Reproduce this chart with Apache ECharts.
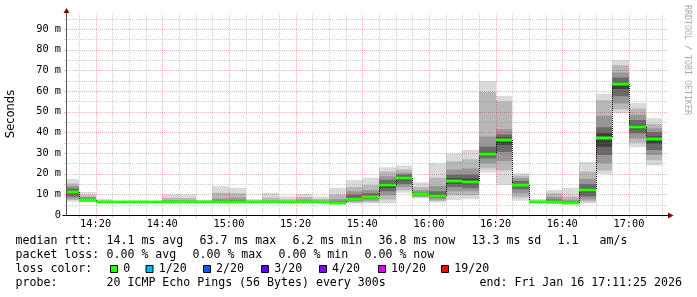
<!DOCTYPE html>
<html><head><meta charset="utf-8">
<script src="https://cdn.jsdelivr.net/npm/echarts@6/dist/echarts.min.js"></script>
<style>html,body{margin:0;padding:0;background:#fff}#c{width:697px;height:297px}</style>
</head><body><div id="c"></div>
<script>
// ---- data ----
// end time of each 5-minute step
const binEnds = ['14:15','14:20','14:25','14:30','14:35','14:40','14:45','14:50','14:55','15:00','15:05','15:10',
  '15:15','15:20','15:25','15:30','15:35','15:40','15:45','15:50','15:55','16:00','16:05','16:10',
  '16:15','16:20','16:25','16:30','16:35','16:40','16:45','16:50','16:55','17:00','17:05','17:10'];
// median rtt (ms)
const median = [11.1,7.3,6.1,6.1,6.4,6.1,6.1,6.1,6.1,6.2,6.2,6.2,6.1,6.1,6.2,6.2,6.0,7.9,8.7,14.4,17.9,10.0,9.2,16.6,
  16.0,29.4,36.4,14.7,6.1,6.3,6.0,12.1,37.3,63.4,42.6,36.6];
// smoke: sorted ping quantiles (ms), lo1 = fastest ping ... hi1 = slowest ping
const lo1 = [6.4,6.1,5.8,5.9,6.1,5.9,5.8,5.8,5.8,5.8,5.8,5.8,5.8,5.8,5.8,5.8,5.6,5.4,5.6,5.6,10.8,8.1,6.0,7.3,7.7,20.6,14.5,6.9,5.8,5.3,5.5,5.6,19.8,49.2,32.8,24.0];
const lo2 = [7.2,6.4,5.9,6.0,6.2,6.0,5.9,5.9,5.9,5.9,5.9,5.9,5.9,5.9,5.9,5.9,5.7,6.0,6.3,7.5,12.0,8.6,6.8,9.5,9.5,22.5,21.5,8.5,5.9,5.6,5.7,6.5,21.5,51.0,35.0,26.5];
const lo3 = [8.0,6.7,6.0,6.0,6.3,6.0,6.0,6.0,6.0,6.0,6.0,6.0,6.0,6.0,6.0,6.0,5.8,6.5,7.0,9.5,13.5,9.0,7.5,11.5,11.5,25.0,26.0,10.5,6.0,5.8,5.8,7.5,25.0,54.0,37.0,29.0];
const lo4 = [9.0,6.9,6.0,6.1,6.3,6.1,6.0,6.0,6.0,6.1,6.1,6.1,6.0,6.0,6.1,6.1,5.9,7.0,7.7,11.5,15.0,9.4,8.2,13.5,13.0,27.5,30.5,12.5,6.0,6.0,5.9,9.0,29.0,57.5,39.5,31.5];
const lo5 = [10.3,7.1,6.1,6.1,6.4,6.1,6.1,6.1,6.1,6.2,6.2,6.2,6.1,6.1,6.2,6.2,6.0,7.6,8.3,13.2,16.8,9.8,8.8,15.3,14.8,28.8,34.0,14.0,6.1,6.2,6.0,11.0,33.0,61.0,41.5,34.5];
const hi5 = [11.8,7.5,6.2,6.2,6.5,6.2,6.3,6.3,6.2,6.5,6.6,6.3,6.2,6.2,6.4,6.3,6.2,8.6,9.2,15.5,18.7,10.3,10.0,17.8,17.5,30.5,37.5,15.3,6.2,6.6,6.2,13.0,39.5,64.5,43.5,38.0];
const hi4 = [12.8,8.0,6.3,6.2,6.5,6.2,6.6,6.6,6.3,7.0,7.2,6.4,6.5,6.4,6.8,6.5,6.8,9.8,10.5,17.0,19.5,11.0,11.5,19.5,19.5,33.0,39.0,16.5,6.3,7.5,6.6,15.0,42.5,66.5,46.0,40.0];
const hi3 = [14.0,8.7,6.5,6.3,6.6,6.3,7.2,7.1,6.5,8.0,8.3,6.6,7.0,6.8,7.5,6.9,7.8,11.5,12.0,18.8,20.5,12.0,14.0,22.0,22.5,38.0,41.5,17.8,6.5,8.8,7.4,17.5,48.0,69.0,48.5,42.0];
const hi2 = [15.3,9.6,6.9,6.4,6.7,6.4,8.3,8.2,6.8,10.8,10.5,7.0,8.3,7.6,8.7,7.8,9.8,13.5,14.5,21.0,22.0,13.5,18.0,26.0,27.0,59.5,55.0,19.0,6.9,10.5,9.0,21.0,55.5,72.5,51.5,44.0];
const hi1 = [17.4,11.1,7.9,6.6,6.9,6.6,10.0,9.9,7.4,14.0,13.2,7.7,10.7,8.9,10.3,8.9,13.2,16.9,18.0,23.1,23.9,15.8,25.0,29.8,31.4,64.8,57.6,20.2,7.7,12.1,13.2,25.6,58.7,75.0,54.3,46.8];
// axis
const timeStart = '14:11:25', timeEnd = '17:11:25';
const xTickLabels = ['14:20','14:40','15:00','15:20','15:40','16:00','16:20','16:40','17:00'];
const yTickValues = [0,10,20,30,40,50,60,70,80,90];
const yMax = 97.5;
// legend texts
const rttStats = ['14.1 ms avg','63.7 ms max','6.2 ms min','36.8 ms now','13.3 ms sd','1.1','am/s'];
const lossStats = ['0.00 % avg','0.00 % max','0.00 % min','0.00 % now'];
const lossLabels = ['0','1/20','2/20','3/20','4/20','10/20','19/20'];
const lossColors = ['#26ff00','#00b8ff','#0059ff','#5e00ff','#7e00ff','#dd00ff','#ff0000'];
const probeText = '20 ICMP Echo Pings (56 Bytes) every 300s';
const endText = 'end: Fri Jan 16 17:11:25 2026';

// ---- helpers ----
function toMin(s){ const p = s.split(':').map(Number); return p[0]*60 + p[1] + (p[2]||0)/60; }
function fmtMin(v){ const h = Math.floor(v/60), m = Math.round(v - h*60); return h + ':' + String(m).padStart(2,'0'); }
const X_MIN = toMin(timeStart), X_MAX = toMin(timeEnd);
const STEP = 5;

const smokeData = binEnds.map((e,i) => {
  const end = toMin(e);
  return [end-STEP, end, lo1[i], lo2[i], lo3[i], lo4[i], lo5[i], hi5[i], hi4[i], hi3[i], hi2[i], hi1[i]];
});
const medData = binEnds.map((e,i) => {
  const end = toMin(e);
  return [end-STEP, end, median[i], i ? median[i-1] : median[i]];
});
// grid lines
const vMinor = [], vMajor = [];
for (let t = toMin('14:15'); t < X_MAX; t += STEP) (Math.round(t) % 20 === 0 ? vMajor : vMinor).push([t, 0]);
const hMinor = [], hMajor = [];
for (let v = 5; v < yMax; v += 5) (v % 10 === 0 ? hMajor : hMinor).push([X_MIN, v]);

const SMOKE_COLORS = ['#dadada','#b8b8b8','#979797','#6a6a6a','#3e3e3e'];
const MINOR = 'rgba(140,140,140,0.4)', MAJOR = 'rgba(229,0,0,0.3)';
const MONO = '"DejaVu Sans Mono", monospace';

// dotted line made of 1px dots (every other pixel)
function dotted(x, y, len, horiz, color){
  const out = [];
  for (let k = 0; k < len; k += 2) {
    out.push({type: 'rect', shape: horiz ? {x: x + k, y: y, width: 1, height: 1} : {x: x, y: y + k, width: 1, height: 1},
      style: {fill: color}});
  }
  return out;
}
function vGridSeries(data, color){
  return {type: 'custom', z: 2, data, encode: {x: 0, y: 1}, silent: true,
    renderItem: (params, api) => {
      const cs = params.coordSys;
      const x = Math.round(api.coord([api.value(0), 0])[0]);
      const y0 = Math.round(cs.y), y1 = Math.round(cs.y + cs.height);
      const ch = dotted(x, y0, y1 - y0, false, color);
      ch.push({type: 'rect', shape: {x: x, y: y1 + 1, width: 1, height: 2}, style: {fill: color}});
      return {type: 'group', children: ch};
    }};
}
function hGridSeries(data, color){
  return {type: 'custom', z: 2, data, encode: {x: 0, y: 1}, silent: true,
    renderItem: (params, api) => {
      const cs = params.coordSys;
      const y = Math.round(api.coord([X_MIN, api.value(1)])[1]);
      const x0 = Math.round(cs.x);
      const ch = dotted(x0 + 1, y, Math.round(cs.width), true, color);
      ch.push({type: 'rect', shape: {x: x0 - 3, y: y, width: 3, height: 1}, style: {fill: color}});
      return {type: 'group', children: ch};
    }};
}

const chart = echarts.init(document.getElementById('c'), null, {renderer:'canvas'});
const GL = 67, GT = 13.5, GW = 600, GH = 201.5;
chart.setOption({
  animation: false,
  backgroundColor: '#ffffff',
  grid: {left: GL, top: GT, width: GW, height: GH, containLabel: false, outerBoundsMode: 'none'},
  xAxis: {type: 'value', min: X_MIN, max: X_MAX,
    axisLine: {show: false}, axisTick: {show: false}, splitLine: {show: false},
    axisLabel: {customValues: xTickLabels.map(toMin), formatter: fmtMin, fontFamily: MONO, fontSize: 10.3, color: '#000', margin: 4}},
  yAxis: {type: 'value', min: 0, max: yMax,
    axisLine: {show: false}, axisTick: {show: false}, splitLine: {show: false},
    axisLabel: {customValues: yTickValues, formatter: v => v === 0 ? '0' : v + ' m', fontFamily: MONO, fontSize: 10.3, color: '#000', margin: 6}},
  series: [
    {type: 'custom', z: 1, clip: true, data: smokeData, encode: {x: [0,1], y: [2,11]}, silent: true,
      renderItem: (params, api) => {
        const children = [];
        const xs = Math.round(api.coord([api.value(0), 0])[0]);
        const xe = Math.round(api.coord([api.value(1), 0])[0]);
        for (let k = 0; k < 5; k++) {
          const lo = api.coord([0, api.value(2+k)])[1];
          const hi = api.coord([0, api.value(11-k)])[1];
          children.push({type: 'rect', shape: {x: xs, y: hi, width: xe-xs, height: Math.max(lo-hi, 0.6)},
            style: {fill: SMOKE_COLORS[k]}});
        }
        return {type: 'group', children};
      }},
    vGridSeries(vMinor, MINOR), vGridSeries(vMajor, MAJOR),
    hGridSeries(hMinor, MINOR), hGridSeries(hMajor, MAJOR),
    {type: 'custom', z: 3, clip: true, data: medData, encode: {x: [0,1], y: [2,3]}, silent: true,
      renderItem: (params, api) => {
        const s = api.coord([api.value(0), api.value(2)]);
        const e = api.coord([api.value(1), api.value(2)]);
        const p = api.coord([api.value(0), api.value(3)]);
        const xs = Math.round(s[0]), xe = Math.round(e[0]);
        const ya = Math.round(Math.min(p[1], s[1])), yb = Math.round(Math.max(p[1], s[1]));
        const ch = dotted(xs, ya, yb - ya, false, '#111');
        ch.push({type: 'rect', shape: {x: xs, y: Math.round(s[1]) - 1.5, width: xe - xs, height: 3}, style: {fill: lossColors[0]}});
        return {type: 'group', children: ch};
      }}
  ]
});

// ---- decorations: axes, arrows, titles, legend ----
const o = chart.convertToPixel({gridIndex: 0}, [X_MIN, 0]);
const r = chart.convertToPixel({gridIndex: 0}, [X_MAX, yMax]);
const ox = Math.round(o[0]) - 0.5, oy = Math.round(o[1]) + 0.5;
const g = [];
g.push({type: 'line', shape: {x1: ox, y1: oy, x2: ox, y2: r[1] - 1}, style: {stroke: '#555', lineWidth: 1}, z: 10});
g.push({type: 'line', shape: {x1: ox - 4, y1: oy, x2: r[0] + 1, y2: oy}, style: {stroke: '#000', lineWidth: 1}, z: 10});
g.push({type: 'polygon', shape: {points: [[r[0] + 1, oy - 3], [r[0] + 6.5, oy], [r[0] + 1, oy + 3]]}, style: {fill: '#7f0000'}, z: 11});
g.push({type: 'polygon', shape: {points: [[ox - 3, r[1] - 0.5], [ox, r[1] - 5.5], [ox + 3, r[1] - 0.5]]}, style: {fill: '#7f0000'}, z: 11});

g.push({type: 'text', x: 11, y: 114, rotation: Math.PI/2, z: 10,
  style: {text: 'Seconds', font: '11.5px "DejaVu Sans", sans-serif', fill: '#000', align: 'center', verticalAlign: 'middle'}});
g.push({type: 'text', x: 687, y: 60, rotation: -Math.PI/2, z: 10,
  style: {text: 'RRDTOOL / TOBI OETIKER', font: '8.3px ' + MONO, fill: '#aaaaaa', align: 'center', verticalAlign: 'middle'}});

const LF = '11.6px ' + MONO;
function txt(s, x, y){ g.push({type: 'text', x, y, z: 10, style: {text: s, font: LF, fill: '#000', align: 'left', verticalAlign: 'middle'}}); }
const rows = [241, 255, 269, 283];
txt('median rtt:', 15.5, rows[0]);
[106.5, 199.5, 292.5, 378.5, 471.5, 557.5, 599.5].forEach((x, i) => txt(rttStats[i], x, rows[0]));
txt('packet loss:', 15.5, rows[1]);
[106.5, 192.5, 278.5, 364.5].forEach((x, i) => txt(lossStats[i], x, rows[1]));
txt('loss color:', 15.5, rows[2]);
const sqX = [110.5, 146, 203.5, 261.5, 319.5, 378.5, 441.5];
const lbX = [123.3, 158.7, 216, 274.3, 332, 391, 454.3];
sqX.forEach((x, i) => {
  g.push({type: 'rect', z: 10, shape: {x: x, y: rows[2] - 3.5, width: 7, height: 7}, style: {fill: lossColors[i], stroke: '#000', lineWidth: 1}});
  txt(lossLabels[i], lbX[i], rows[2]);
});
txt('probe:', 15.5, rows[3]);
txt(probeText, 106.5, rows[3]);
txt(endText, 479.5, rows[3]);
chart.setOption({graphic: g});
</script>
</body></html>
